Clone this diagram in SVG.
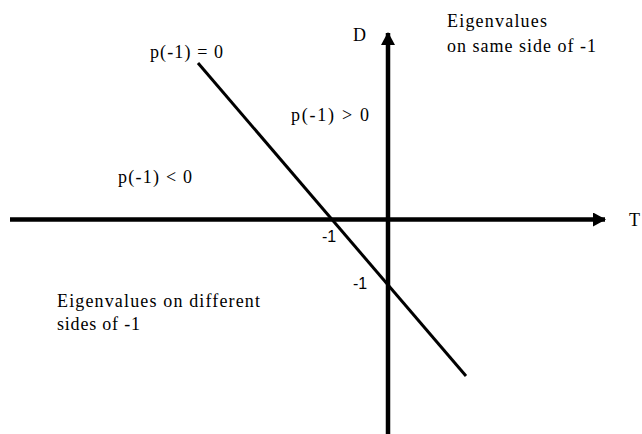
<svg xmlns="http://www.w3.org/2000/svg" width="642" height="434" viewBox="0 0 642 434">
<style>
.t{font-family:"Liberation Serif","Times New Roman","DejaVu Serif",serif;font-size:18px;fill:#000}
.s{font-family:"Liberation Sans",Arial,sans-serif;font-size:16px;fill:#000}
.ax{stroke:#000;stroke-width:4.5;fill:none}
.ln{stroke:#000;stroke-width:3;fill:none}
</style>
<defs>
<marker id="ah" viewBox="0 0 13 14" refX="12" refY="7" markerWidth="13" markerHeight="14" orient="auto" markerUnits="userSpaceOnUse">
<path d="M0,0 L13,7 L0,14 z" fill="#000"/>
</marker>
</defs>
<rect width="642" height="434" fill="#fff"/>
<g id="connectors">
<line id="t-axis" class="ax" x1="10" y1="219.5" x2="605" y2="219.5" marker-end="url(#ah)"/>
<line id="d-axis" class="ax" x1="388" y1="434" x2="388" y2="33" marker-end="url(#ah)"/>
<line id="boundary" class="ln" x1="198" y1="63" x2="466" y2="376"/>
</g>
<g id="label-D"><text class="t" x="353" y="41">D</text></g>
<g id="label-T"><text class="t" x="629" y="226">T</text></g>
<g id="label-p0"><text class="t" x="150" y="58" textLength="73">p(-1) = 0</text></g>
<g id="label-pgt"><text class="t" x="291" y="121" textLength="78">p(-1) &gt; 0</text></g>
<g id="label-plt"><text class="t" x="118" y="183" textLength="74">p(-1) &lt; 0</text></g>
<g id="label-m1a"><text class="s" x="322" y="242">-1</text></g>
<g id="label-m1b"><text class="s" x="353" y="289">-1</text></g>
<g id="label-diff"><text class="t" x="57" y="307" textLength="203">Eigenvalues on different</text><text class="t" x="57" y="330" textLength="83">sides of -1</text></g>
<g id="label-same"><text class="t" x="447" y="27" textLength="100">Eigenvalues</text><text class="t" x="447" y="52" textLength="149">on same side of -1</text></g>
</svg>
